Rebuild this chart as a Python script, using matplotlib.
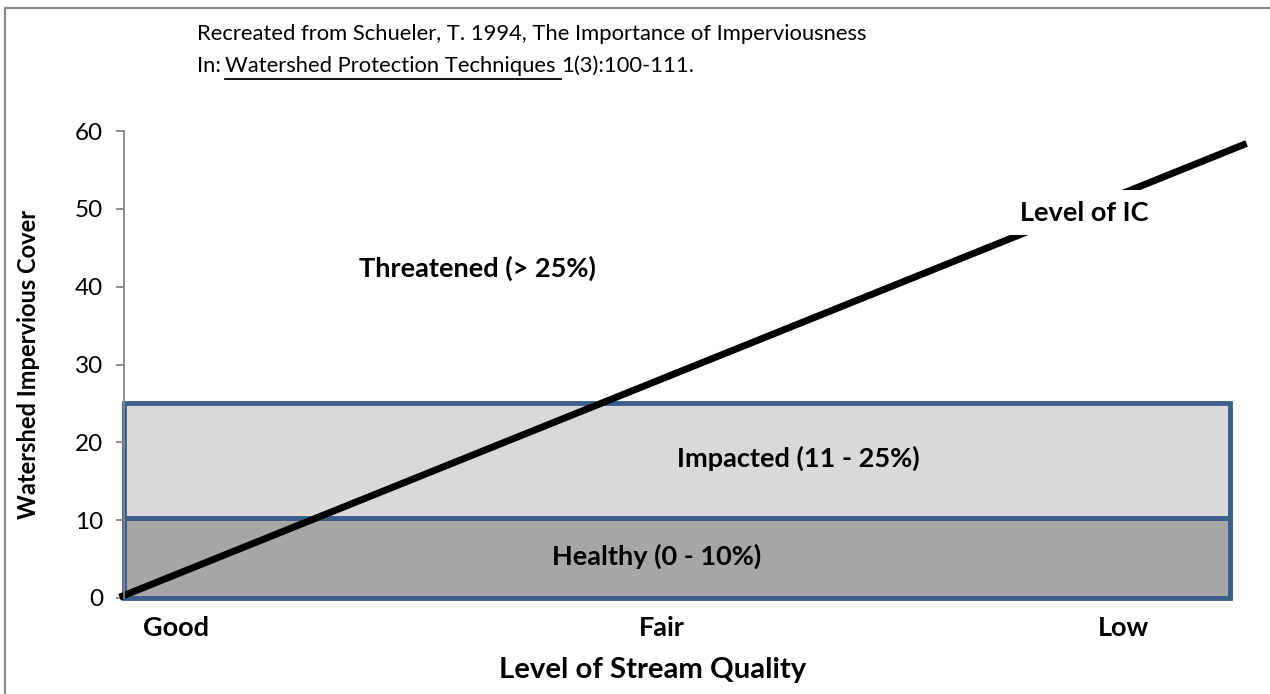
import matplotlib
matplotlib.use("Agg")
import matplotlib.pyplot as plt
from matplotlib.patches import Rectangle
from matplotlib.lines import Line2D

# ---- data ----
categories = ["Good", "Fair", "Low"]
category_pos = [4.7, 48.6, 90.4]
zone_labels = ["Healthy (0 - 10%)", "Impacted (11 - 25%)"]
zone_bottom = [0, 10.3]
zone_top = [10.3, 25]
zone_colors = ["#A6A6A6", "#D9D9D9"]
threat_label = "Threatened (> 25%)"
ic_x = [-0.4, 101.5]
ic_y = [0.1, 58.4]
y_ticks = [0, 10, 20, 30, 40, 50, 60]

W, H = 1270, 694
plt.rcParams['font.family'] = ['Lato', 'DejaVu Sans']
fig = plt.figure(figsize=(W / 100, H / 100), dpi=100)

def fx(px):
    return px / W

def fy(py):
    return 1 - py / H

# outer frame (left & top visible)
fig.patches.append(Rectangle((fx(5), -0.2), 2, fy(8) + 0.2, transform=fig.transFigure,
                             fill=False, edgecolor="#8C8C8C", linewidth=1.6))

ax = fig.add_axes([fx(124), fy(598), fx(1230) - fx(124), fy(131) - fy(598)])
ax.set_xlim(0, 100)
ax.set_ylim(0, 60)
for s in ["top", "right", "bottom"]:
    ax.spines[s].set_visible(False)
ax.spines["left"].set_color("#868686")
ax.spines["left"].set_linewidth(1.3)
ax.set_yticks(y_ticks)
ax.tick_params(axis="y", length=6, width=1.3, color="#868686", labelsize=17.5, pad=9)
ax.set_xticks(category_pos)
ax.set_xticklabels(categories, fontsize=19.5, fontweight="bold")
ax.tick_params(axis="x", length=0, pad=13)
ax.set_ylabel("Watershed Impervious Cover", fontsize=17, fontweight="bold")
ax.yaxis.label.set_va("center")
ax.yaxis.set_label_coords((29 - 124) / 1106, 0.5)
ax.set_xlabel("Level of Stream Quality", fontsize=21.2, fontweight="bold")
ax.xaxis.label.set_va("center")
ax.xaxis.set_label_coords((653 - 124) / 1106, (598 - 670) / 467)

# zones
heights = [t - b for t, b in zip(zone_top, zone_bottom)]
ax.bar([50, 50], heights, bottom=zone_bottom, width=100, color=zone_colors,
       edgecolor="#3A5F8B", linewidth=3.5, zorder=1, clip_on=False)

# IC line
ax.plot(ic_x, ic_y, color="black", linewidth=5, solid_capstyle="butt", zorder=2, clip_on=False)

# zone labels
fs_lab = 19.5
ax.text(48.2, 5.4, zone_labels[0], ha="center", va="center", fontsize=fs_lab, fontweight="bold", zorder=3)
ax.text(61, 18.0, zone_labels[1], ha="center", va="center", fontsize=fs_lab, fontweight="bold", zorder=3)
ax.text(32, 42.4, threat_label, ha="center", va="center", fontsize=fs_lab, fontweight="bold", zorder=3)
ax.text(86.8, 49.5, "Level of IC", ha="center", va="center", fontsize=fs_lab, fontweight="bold", zorder=4,
        bbox=dict(boxstyle="square,pad=0.38", facecolor="white", edgecolor="none"))

# source note
fs_note = 15.8
fig.text(fx(197), fy(34), "Recreated from Schueler, T. 1994, The Importance of Imperviousness",
         fontsize=fs_note, va="center", ha="left")
renderer = fig.canvas.get_renderer()
t1 = fig.text(fx(197), fy(66), "In:", fontsize=fs_note, va="center", ha="left")
bb1 = t1.get_window_extent(renderer)
t2 = fig.text(bb1.x1 / W + fx(4), fy(66), "Watershed Protection Techniques ", fontsize=fs_note, va="center", ha="left")
bb2 = t2.get_window_extent(renderer)
t3 = fig.text(bb2.x1 / W, fy(66), "1(3):100-111.", fontsize=fs_note, va="center", ha="left")
fig.lines.append(Line2D([bb2.x0 / W, bb2.x1 / W], [fy(79), fy(79)], transform=fig.transFigure,
                        color="black", linewidth=1.3))

fig.savefig("out.png", dpi=100)
